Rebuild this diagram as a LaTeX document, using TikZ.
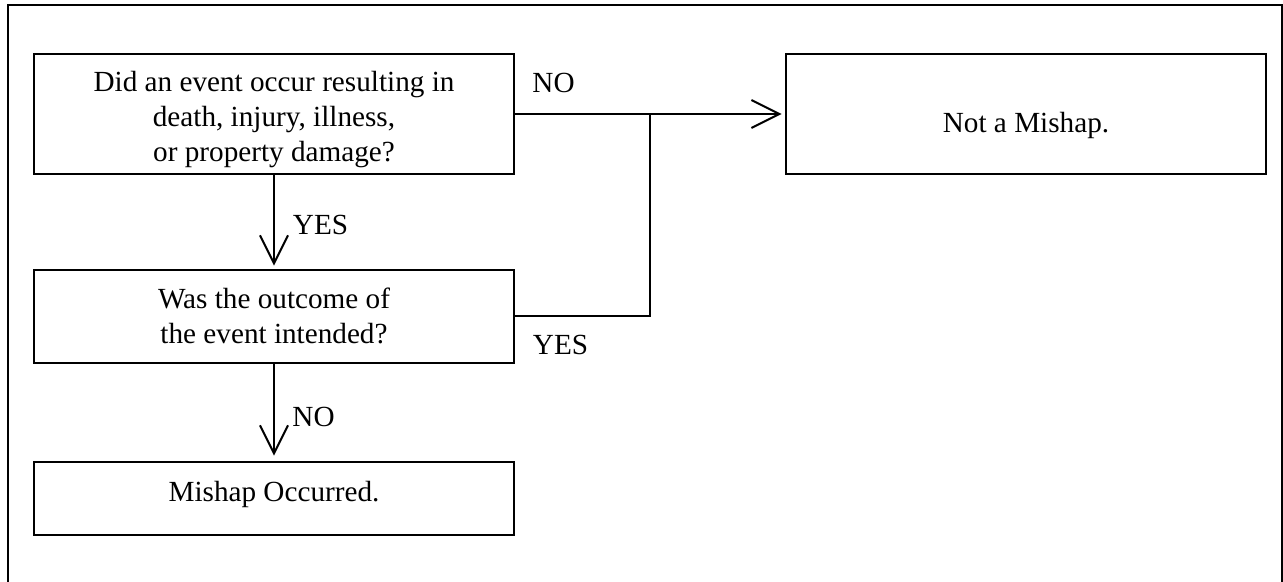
\documentclass[tikz,border=0pt]{standalone}
\usepackage{fontspec}
\setmainfont{Liberation Serif}
\usepackage{tikz}
\usetikzlibrary{arrows.meta}

\tikzset{
	stepbox/.style={draw,line width=1.4pt,rectangle,minimum width=240pt,inner sep=0pt},
	steptext/.style={align=center,inner sep=0pt},
	flowline/.style={line width=1pt},
	flowarrow/.style={line width=1pt,-{Straight Barb[length=14pt,width=14pt,line width=1pt]},shorten >=1.5pt}
}

\begin{document}
\begin{tikzpicture}[x=0.5pt,y=-0.5pt,font=\fontsize{14.6}{17.5}\selectfont]
	\useasboundingbox (0,0) rectangle (1283,582);
	\draw[line width=1pt] (8,600) -- (8,5) -- (1282,5) -- (1282,600);
	%
	\node[stepbox,minimum height=60pt] (event) at (274,114) {};
	\node[stepbox,minimum height=60pt] (nomishap) at (1026,114) {};
	\node[stepbox,minimum height=46.5pt] (intended) at (274,316.5) {};
	\node[stepbox,minimum height=36.5pt] (mishap) at (274,498.5) {};
	\coordinate (join) at (650,114);
	%
	\node[steptext] (eventtext) at (274,120) {Did an event occur resulting in\\ death, injury, illness,\\ or property damage?};
	\node[steptext] (nomishaptext) at (1026,125) {Not a Mishap.};
	\node[steptext] (intendedtext) at (274,316) {Was the outcome of\\ the event intended?};
	\node[steptext] (mishaptext) at (274,494.5) {Mishap Occurred.};
	%
	\draw[flowarrow] (event) -- (nomishap);
	\draw[flowline] (intended.east) -- (intended.east -| join) -- (join);
	\draw[flowarrow] (event) -- (intended);
	\draw[flowarrow,shorten >=2.5pt] (intended) -- (mishap);
	%
	\node[inner sep=0pt] (noright) at (553.5,82.5) {NO};
	\node[inner sep=0pt] (yesright) at (560.5,345) {YES};
	\node[inner sep=0pt] (yesdown) at (320.5,225) {YES};
	\node[inner sep=0pt] (nodown) at (313.5,417) {NO};
\end{tikzpicture}
\end{document}
